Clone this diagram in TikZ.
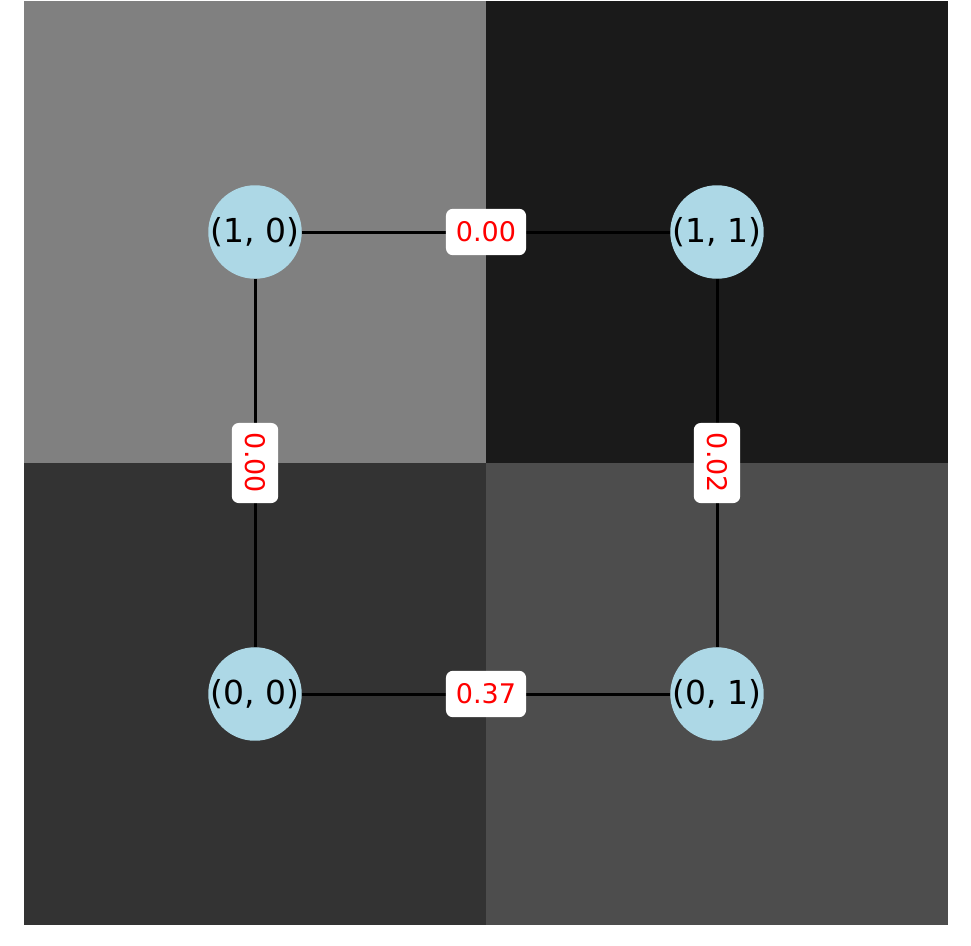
\documentclass[tikz,border=0pt]{standalone}
\usepackage{fontspec}
\setmainfont{DejaVu Sans}
\definecolor{qa}{HTML}{808080}
\definecolor{qb}{HTML}{1A1A1A}
\definecolor{qc}{HTML}{333333}
\definecolor{qd}{HTML}{4D4D4D}
\definecolor{nodeblue}{HTML}{ADD8E6}
\tikzset{
  vert/.style={circle, fill=nodeblue, minimum size=89pt, inner sep=0pt, font=\fontsize{33}{36}\selectfont},
  elabel/.style={fill=white, rounded corners=7pt, text=red, inner xsep=10pt, inner ysep=13pt, font=\fontsize{27}{29}\selectfont},
  edge/.style={line width=3pt, black}
}
\begin{document}
\begin{tikzpicture}[x=1pt,y=-1pt]
\useasboundingbox (0,0) rectangle (971,945);
\fill[white] (0,0) rectangle (971,945);
\fill[qa] (24,1) rectangle (486,463);
\fill[qb] (486,1) rectangle (948,463);
\fill[qc] (24,463) rectangle (486,925);
\fill[qd] (486,463) rectangle (948,925);
\node[vert] (n10) at (255,232) {(1, 0)};
\node[vert] (n11) at (717,232) {(1, 1)};
\node[vert] (n00) at (255,694) {(0, 0)};
\node[vert] (n01) at (717,694) {(0, 1)};
\draw[edge] (n10) -- (n11);
\draw[edge] (n10) -- (n00);
\draw[edge] (n11) -- (n01);
\draw[edge] (n00) -- (n01);
\node[elabel] (l1) at (486,232) {0.00};
\node[elabel] (l4) at (486,694) {0.37};
\node[elabel, rotate=-90] (l2) at (255,463) {0.00};
\node[elabel, rotate=-90] (l3) at (717,463) {0.02};
\end{tikzpicture}
\end{document}
